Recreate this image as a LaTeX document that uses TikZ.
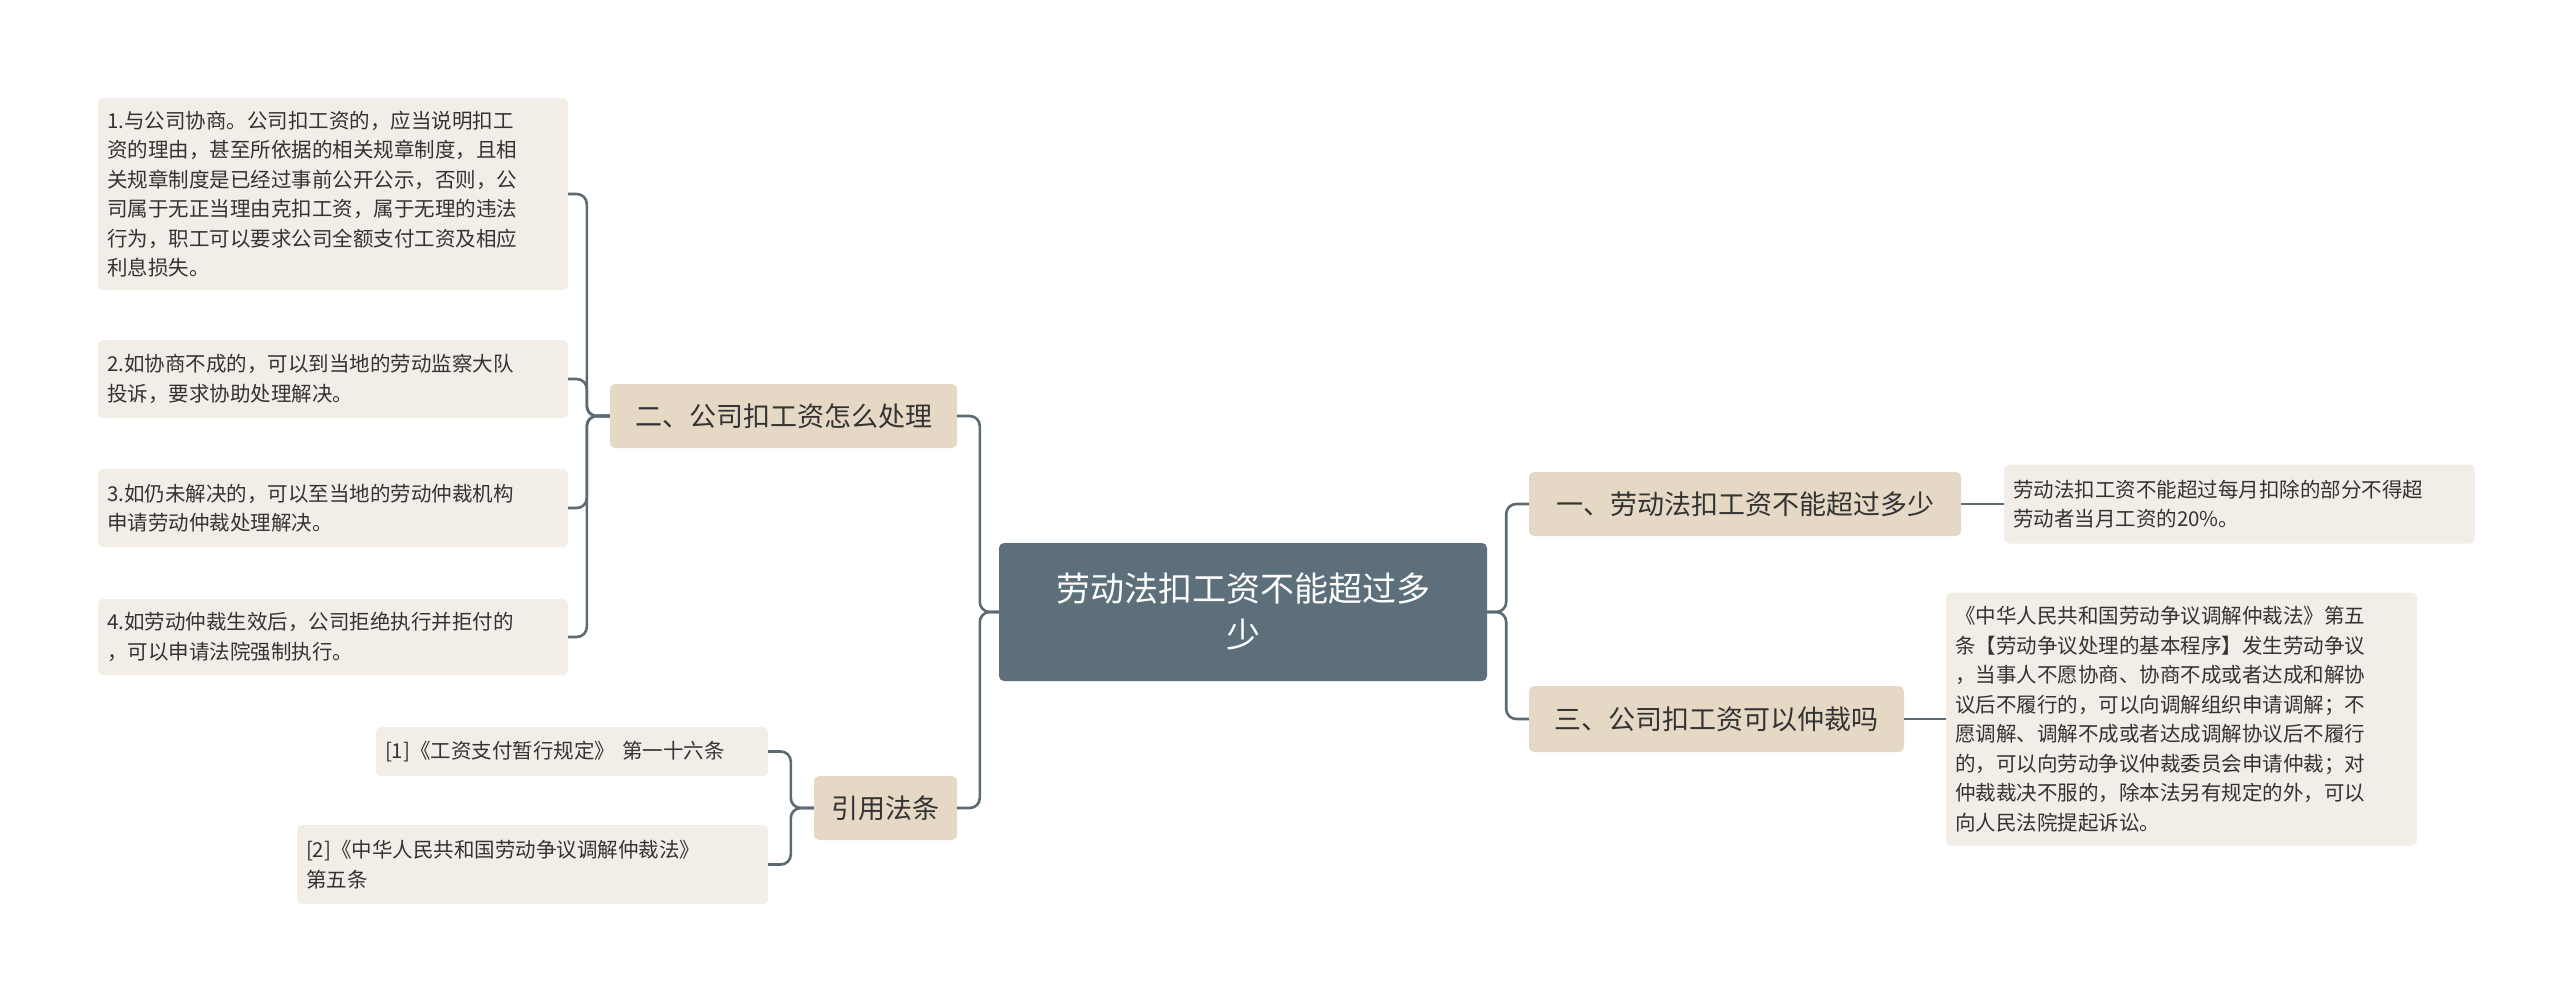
\documentclass[tikz,border=0pt]{standalone}
\usepackage{fontspec}
\setmainfont{Noto Sans CJK SC}
\begin{document}
\begin{tikzpicture}[x=1pt,y=-1pt,
  root/.style={fill=rootc,rounded corners=5pt,text=white,font=\fontsize{34}{46}\selectfont,align=center,inner sep=0pt},
  lvl/.style={fill=lvlc,rounded corners=5pt,text=txt,font=\fontsize{27}{34}\selectfont,inner sep=0pt},
  leaf/.style={fill=leafc,rounded corners=5pt,text=txt,font=\fontsize{20.5}{29.5}\selectfont,align=left,inner sep=0pt},
  conn/.style={draw=linec,line width=2.6pt,rounded corners=10pt}]
\definecolor{rootc}{HTML}{5C6F7B}
\definecolor{lvlc}{HTML}{E5D9C6}
\definecolor{leafc}{HTML}{F2EEE7}
\definecolor{linec}{HTML}{5D6A72}
\definecolor{txt}{HTML}{333333}
\useasboundingbox[fill=white] (0,0) rectangle (2560,997);
\node[root,minimum width=488pt,minimum height=138pt] (c) at (1243,612) {劳动法扣工资不能超过多\\少};
\node[lvl,minimum width=347pt,minimum height=64pt] (a) at (783.5,416) {二、公司扣工资怎么处理};
\node[lvl,minimum width=143pt,minimum height=64pt] (b) at (885.5,808) {引用法条};
\node[lvl,minimum width=432pt,minimum height=64pt] (d) at (1745,504) {一、劳动法扣工资不能超过多少};
\node[lvl,minimum width=375pt,minimum height=66pt] (e) at (1716.5,719) {三、公司扣工资可以仲裁吗};
\node[leaf,minimum width=470pt,minimum height=192pt,text width=452pt] (l1) at (333,194) {1.与公司协商。公司扣工资的，应当说明扣工\\资的理由，甚至所依据的相关规章制度，且相\\关规章制度是已经过事前公开公示，否则，公\\司属于无正当理由克扣工资，属于无理的违法\\行为，职工可以要求公司全额支付工资及相应\\利息损失。};
\node[leaf,minimum width=470pt,minimum height=78pt,text width=452pt] (l2) at (333,379) {2.如协商不成的，可以到当地的劳动监察大队\\投诉，要求协助处理解决。};
\node[leaf,minimum width=470pt,minimum height=78pt,text width=452pt] (l3) at (333,508) {3.如仍未解决的，可以至当地的劳动仲裁机构\\申请劳动仲裁处理解决。};
\node[leaf,minimum width=470pt,minimum height=76pt,text width=452pt] (l4) at (333,637) {4.如劳动仲裁生效后，公司拒绝执行并拒付的\\，可以申请法院强制执行。};
\node[leaf,minimum width=392pt,minimum height=49pt,text width=374pt] (r1) at (572,751.5) {[1]《工资支付暂行规定》 第一十六条};
\node[leaf,minimum width=471pt,minimum height=79pt,text width=453pt] (r2) at (532.5,864.5) {[2]《中华人民共和国劳动争议调解仲裁法》\\第五条};
\node[leaf,minimum width=471pt,minimum height=79pt,text width=453pt] (ra) at (2239.5,504) {劳动法扣工资不能超过每月扣除的部分不得超\\劳动者当月工资的20\%。};
\node[leaf,minimum width=471pt,minimum height=253pt,text width=453pt] (rb) at (2181.5,719) {《中华人民共和国劳动争议调解仲裁法》第五\\条【劳动争议处理的基本程序】发生劳动争议\\，当事人不愿协商、协商不成或者达成和解协\\议后不履行的，可以向调解组织申请调解；不\\愿调解、调解不成或者达成调解协议后不履行\\的，可以向劳动争议仲裁委员会申请仲裁；对\\仲裁裁决不服的，除本法另有规定的外，可以\\向人民法院提起诉讼。};
\foreach \t in {a,b} \draw[conn] (c.west) -- ++(-19,0) |- (\t.east);
\foreach \t in {d,e} \draw[conn] (c.east) -- ++(19,0) |- (\t.west);
\foreach \t in {l1,l2,l3,l4} \draw[conn] (a.west) -- ++(-23,0) |- (\t.east);
\foreach \t in {r1,r2} \draw[conn] (b.west) -- ++(-23,0) |- (\t.east);
\draw[conn] (d.east) -- (ra.west);
\draw[conn] (e.east) -- (rb.west);
\end{tikzpicture}
\end{document}
